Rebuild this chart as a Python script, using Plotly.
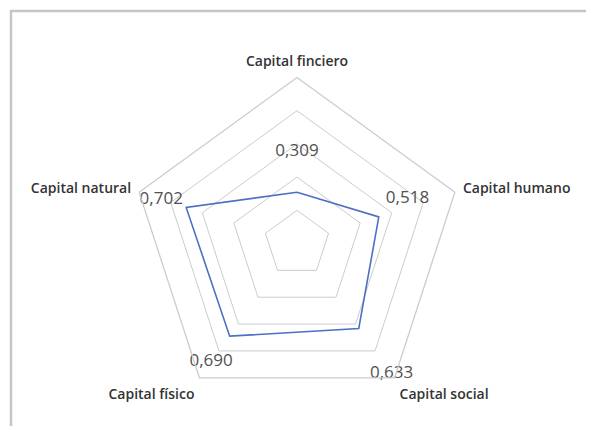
import plotly.graph_objects as go

categories = ["Capital finciero", "Capital humano", "Capital social", "Capital físico", "Capital natural"]
values = [0.309, 0.518, 0.633, 0.690, 0.702]
grid_levels = [0.2, 0.4, 0.6, 0.8, 1.0]

# radial placement of the value labels (layout only)
label_r = [0.55, 0.70, 0.97, 0.88, 0.86]
label_pos = ["middle center", "top center", "middle center", "middle center", "middle center"]
labels = [f"{v:.3f}".replace(".", ",") for v in values]

# page has an 8px body margin, so the figure is drawn 8px in from the window edge
OFF = 8
W, H = 594 - OFF, 426 - OFF
cx, cy, R = 297 - OFF, 243.5 - OFF, 166

fig = go.Figure()
fig.add_trace(go.Scatterpolar(
    r=values + values[:1],
    theta=categories + categories[:1],
    mode="lines",
    line=dict(color="#4f6fc4", width=1.6),
    hoverinfo="skip",
    showlegend=False,
))
fig.add_trace(go.Scatterpolar(
    r=label_r,
    theta=categories,
    mode="text",
    text=labels,
    textposition=label_pos,
    textfont=dict(family="Open Sans", size=17, color="#505050"),
    hoverinfo="skip",
    showlegend=False,
))

fig.update_layout(
    width=W, height=H,
    margin=dict(l=0, r=0, t=0, b=0),
    paper_bgcolor="white",
    plot_bgcolor="white",
    showlegend=False,
    polar=dict(
        domain=dict(x=[(cx - R) / W, (cx + R) / W],
                    y=[(H - cy - R) / H, (H - cy + R) / H]),
        gridshape="linear",
        bgcolor="white",
        radialaxis=dict(
            range=[0, 1],
            tickvals=grid_levels,
            showticklabels=False,
            showline=False,
            ticks="",
            gridcolor="#cccccc",
            gridwidth=1.3,
        ),
        angularaxis=dict(
            direction="clockwise",
            rotation=90,
            showgrid=False,
            showline=True,
            linecolor="#cccccc",
            linewidth=1.3,
            ticks="outside",
            ticklen=5,
            tickcolor="rgba(0,0,0,0)",
            tickfont=dict(family="Open Sans", size=14, color="#333333", weight=600),
        ),
    ),
    shapes=[dict(
        type="rect", xref="paper", yref="paper",
        x0=3 / W, x1=1.1, y0=-0.1, y1=1 - 3 / H,
        line=dict(color="#c6c6c6", width=2.5),
        fillcolor="rgba(0,0,0,0)",
    )],
)

fig.write_html("out.html")
